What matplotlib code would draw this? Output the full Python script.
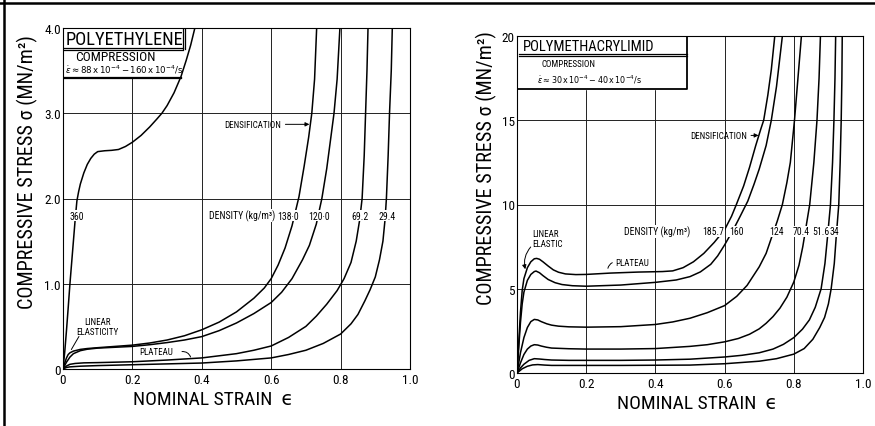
import matplotlib
matplotlib.use("Agg")
import matplotlib.pyplot as plt
from matplotlib import font_manager
from matplotlib.lines import Line2D

# --- pick a narrow font if there is one, else DejaVu Sans
installed = {f.name for f in font_manager.fontManager.ttflist}
FONT = "DejaVu Sans"
for name in ["Liberation Sans Narrow", "DejaVu Sans Condensed", "Roboto Condensed"]:
    if name in installed:
        FONT = name
        break
plt.rcParams["font.family"] = [FONT, "DejaVu Sans"]
plt.rcParams["mathtext.fontset"] = "dejavusans"

# --- polyethylene foams (left), stress in MN/m^2
pe_360_strain = [0, 0.005, 0.01, 0.015, 0.02, 0.025, 0.03, 0.035, 0.04, 0.045, 0.05, 0.06, 0.07,
                 0.08, 0.09, 0.1, 0.12, 0.14, 0.16, 0.18, 0.2, 0.225, 0.25, 0.27, 0.285, 0.3,
                 0.32, 0.34, 0.355, 0.368, 0.38]
pe_360_stress = [0, 0.2, 0.45, 0.72, 1.0, 1.25, 1.5, 1.75, 1.97, 2.08, 2.17, 2.3, 2.4,
                 2.47, 2.52, 2.55, 2.56, 2.565, 2.575, 2.61, 2.66, 2.74, 2.84, 2.93, 3.0, 3.09,
                 3.24, 3.43, 3.62, 3.8, 4.0]

pe_138_strain = [0, 0.005, 0.01, 0.015, 0.02, 0.03, 0.05, 0.07, 0.1, 0.15, 0.2, 0.25, 0.3, 0.35,
                 0.4, 0.45, 0.5, 0.55, 0.58, 0.6, 0.62, 0.64, 0.66, 0.68, 0.695, 0.708, 0.717,
                 0.725, 0.731]
pe_138_stress = [0, 0.07, 0.13, 0.17, 0.19, 0.21, 0.23, 0.24, 0.25, 0.265, 0.28, 0.305, 0.34, 0.39,
                 0.46, 0.55, 0.67, 0.83, 0.95, 1.06, 1.22, 1.42, 1.68, 2.02, 2.38, 2.72, 3.0,
                 3.4, 4.0]

pe_120_strain = [0, 0.005, 0.01, 0.02, 0.03, 0.05, 0.07, 0.1, 0.15, 0.2, 0.25, 0.3, 0.35, 0.4,
                 0.45, 0.5, 0.55, 0.6, 0.63, 0.66, 0.69, 0.71, 0.73, 0.746, 0.76, 0.772, 0.781,
                 0.79, 0.798]
pe_120_stress = [0, 0.04, 0.08, 0.14, 0.18, 0.215, 0.232, 0.245, 0.255, 0.265, 0.285, 0.31, 0.34, 0.38,
                 0.45, 0.54, 0.65, 0.78, 0.9, 1.06, 1.28, 1.45, 1.7, 2.0, 2.35, 2.72, 3.0,
                 3.4, 4.0]

pe_69_strain = [0, 0.01, 0.02, 0.035, 0.06, 0.1, 0.2, 0.3, 0.4, 0.5, 0.55, 0.6, 0.65, 0.7,
                0.73, 0.76, 0.79, 0.81, 0.83, 0.845, 0.855, 0.862, 0.868, 0.872, 0.876, 0.879]
pe_69_stress = [0, 0.035, 0.055, 0.065, 0.072, 0.075, 0.085, 0.105, 0.13, 0.18, 0.22, 0.27, 0.37, 0.5,
                0.62, 0.76, 0.92, 1.06, 1.25, 1.5, 1.75, 2.0, 2.5, 3.0, 3.5, 4.0]

pe_29_strain = [0, 0.01, 0.02, 0.05, 0.1, 0.2, 0.3, 0.4, 0.5, 0.6, 0.65, 0.7, 0.75, 0.8, 0.83,
                0.85, 0.87, 0.885, 0.9, 0.912, 0.922, 0.928, 0.932, 0.937, 0.941, 0.946, 0.949]
pe_29_stress = [0, 0.018, 0.025, 0.033, 0.04, 0.05, 0.06, 0.07, 0.095, 0.13, 0.17, 0.22, 0.3, 0.41, 0.53,
                0.64, 0.8, 0.93, 1.08, 1.28, 1.5, 1.75, 2.0, 2.5, 3.0, 3.5, 4.0]

# --- polymethacrylimid foams (right)
pm_186_strain = [0, 0.005, 0.01, 0.015, 0.02, 0.03, 0.04, 0.05, 0.057, 0.065, 0.075, 0.09, 0.105,
                 0.12, 0.14, 0.17, 0.2, 0.27, 0.35, 0.42, 0.45, 0.48, 0.51, 0.54, 0.57, 0.6,
                 0.62, 0.634, 0.655, 0.672, 0.69, 0.705, 0.713, 0.725, 0.735, 0.745]
pm_186_stress = [0, 1.8, 3.6, 4.9, 5.6, 6.25, 6.6, 6.78, 6.8, 6.75, 6.6, 6.35, 6.12,
                 5.98, 5.88, 5.84, 5.85, 5.93, 5.99, 6.02, 6.06, 6.25, 6.6, 7.1, 7.75, 8.5,
                 9.3, 10.0, 11.1, 12.2, 13.5, 14.5, 15.0, 16.5, 18.0, 20.0]

pm_160_strain = [0, 0.005, 0.01, 0.015, 0.02, 0.03, 0.04, 0.05, 0.055, 0.065, 0.075, 0.09, 0.11,
                 0.13, 0.16, 0.2, 0.3, 0.4, 0.46, 0.5, 0.53, 0.56, 0.58, 0.6, 0.625, 0.645,
                 0.667, 0.685, 0.7, 0.72, 0.735, 0.75, 0.767]
pm_160_stress = [0, 1.5, 3.0, 4.1, 4.8, 5.5, 5.85, 6.02, 6.05, 5.95, 5.78, 5.55, 5.36,
                 5.25, 5.18, 5.15, 5.22, 5.38, 5.52, 5.72, 6.0, 6.45, 6.95, 7.6, 8.5, 9.3,
                 10.2, 11.2, 12.1, 13.5, 15.0, 17.0, 20.0]

pm_124_strain = [0, 0.005, 0.01, 0.02, 0.03, 0.04, 0.05, 0.06, 0.07, 0.086, 0.1, 0.12, 0.15, 0.2,
                 0.3, 0.4, 0.45, 0.5, 0.55, 0.6, 0.635, 0.665, 0.7, 0.72, 0.735, 0.752, 0.767,
                 0.78, 0.79, 0.802, 0.812, 0.822]
pm_124_stress = [0, 0.6, 1.2, 2.1, 2.7, 3.05, 3.18, 3.15, 3.05, 2.92, 2.84, 2.78, 2.74, 2.72,
                 2.75, 2.88, 3.03, 3.25, 3.58, 4.0, 4.55, 5.2, 6.3, 7.1, 8.0, 9.0, 10.0,
                 11.3, 12.5, 15.0, 17.5, 20.0]

pm_70_strain = [0, 0.01, 0.02, 0.03, 0.04, 0.05, 0.06, 0.07, 0.085, 0.1, 0.15, 0.2, 0.3, 0.4,
                0.5, 0.55, 0.6, 0.64, 0.672, 0.7, 0.72, 0.74, 0.76, 0.78, 0.8, 0.815, 0.826,
                0.834, 0.846, 0.858, 0.867, 0.873, 0.877]
pm_70_stress = [0, 0.6, 1.1, 1.42, 1.6, 1.68, 1.66, 1.6, 1.53, 1.48, 1.44, 1.42, 1.42, 1.45,
                1.58, 1.68, 1.85, 2.05, 2.3, 2.62, 2.95, 3.35, 3.85, 4.5, 5.4, 6.4, 7.5,
                8.5, 10.0, 12.5, 15.0, 17.5, 20.0]

pm_52_strain = [0, 0.01, 0.02, 0.035, 0.05, 0.065, 0.08, 0.1, 0.15, 0.3, 0.4, 0.5, 0.6, 0.65,
                0.7, 0.74, 0.77, 0.8, 0.825, 0.845, 0.862, 0.879, 0.89, 0.898, 0.906, 0.912,
                0.916, 0.919, 0.921]
pm_52_stress = [0, 0.3, 0.52, 0.75, 0.85, 0.83, 0.8, 0.77, 0.75, 0.75, 0.77, 0.82, 0.95, 1.05,
                1.2, 1.42, 1.7, 2.1, 2.6, 3.15, 3.9, 5.0, 6.5, 8.2, 10.0, 12.5,
                15.0, 17.5, 20.0]

pm_34_strain = [0, 0.015, 0.03, 0.045, 0.06, 0.08, 0.1, 0.3, 0.5, 0.6, 0.7, 0.75, 0.8, 0.83,
                0.855, 0.875, 0.889, 0.9, 0.908, 0.917, 0.923, 0.93, 0.934, 0.937, 0.939, 0.94]
pm_34_stress = [0, 0.25, 0.4, 0.48, 0.5, 0.47, 0.45, 0.45, 0.47, 0.55, 0.7, 0.85, 1.12, 1.45,
                2.0, 2.7, 3.3, 4.1, 5.0, 6.5, 8.2, 10.0, 12.5, 15.0, 17.5, 20.0]

pe_curves = [(pe_360_strain, pe_360_stress), (pe_138_strain, pe_138_stress),
             (pe_120_strain, pe_120_stress), (pe_69_strain, pe_69_stress),
             (pe_29_strain, pe_29_stress)]
pm_curves = [(pm_186_strain, pm_186_stress), (pm_160_strain, pm_160_stress),
             (pm_124_strain, pm_124_stress), (pm_70_strain, pm_70_stress),
             (pm_52_strain, pm_52_stress), (pm_34_strain, pm_34_stress)]

strain_ticks = [0, 0.2, 0.4, 0.6, 0.8, 1.0]
strain_ticklabels = ["0", "0.2", "0.4", "0.6", "0.8", "1.0"]
pe_ticks = [0, 1, 2, 3, 4]
pe_ticklabels = ["0", "1.0", "2.0", "3.0", "4.0"]
pm_ticks = [0, 5, 10, 15, 20]
pm_ticklabels = ["0", "5", "10", "15", "20"]

pe_density_labels = [("360", 0.04), ("138·0", 0.648), ("120·0", 0.737), ("69.2", 0.857), ("29.4", 0.935)]
pm_density_labels = [("185.7", 0.568), ("160", 0.633), ("124", 0.75), ("70.4", 0.82),
                     ("51.6", 0.878), ("34", 0.917)]

fig = plt.figure(figsize=(8.75, 4.27), dpi=100)
ax1 = fig.add_axes([63 / 875, 57 / 427, 347 / 875, 341 / 427])
ax2 = fig.add_axes([517 / 875, 53 / 427, 346 / 875, 337 / 427])

ylabel = "COMPRESSIVE STRESS σ (MN/m²)"
xlabel = "NOMINAL STRAIN  ϵ"


def style_axes(ax, yticks, yticklabels, ymax):
    ax.set_xlim(0, 1.0)
    ax.set_ylim(0, ymax)
    ax.set_xticks(strain_ticks)
    ax.set_xticklabels(strain_ticklabels)
    ax.set_yticks(yticks)
    ax.set_yticklabels(yticklabels)
    ax.tick_params(length=0, labelsize=9.5, pad=3)
    ax.tick_params(axis="y", pad=1.5)
    ax.grid(True, color="#222222", linewidth=0.7)
    ax.set_axisbelow(True)
    for s in ax.spines.values():
        s.set_linewidth(0.8)
    ax.set_ylabel(ylabel, fontsize=14.5)
    ax.set_xlabel(xlabel, fontsize=14)


style_axes(ax1, pe_ticks, pe_ticklabels, 4.0)
style_axes(ax2, pm_ticks, pm_ticklabels, 20.0)
ax1.yaxis.set_label_coords(-0.072, 0.58)
ax1.xaxis.set_label_coords(0.432, -0.062)
ax2.yaxis.set_label_coords(-0.058, 0.61)
ax2.xaxis.set_label_coords(0.52, -0.061)

for x, y in pe_curves:
    ax1.plot(x, y, color="black", linewidth=1.1, zorder=3)
for x, y in pm_curves:
    ax2.plot(x, y, color="black", linewidth=1.1, zorder=3)

white = dict(facecolor="white", edgecolor="none", pad=0.6)

# --- left panel labels
ax1.text(0.42, 1.8, "DENSITY (kg/m³)", fontsize=7, va="center", ha="left", bbox=white, zorder=4)
for lab, xpos in pe_density_labels:
    ax1.text(xpos, 1.8, lab, fontsize=7, va="center", ha="center", bbox=white, zorder=4)
ax1.annotate("DENSIFICATION", xy=(0.71, 2.87), xytext=(0.465, 2.87), fontsize=6.5, va="center",
             arrowprops=dict(arrowstyle="-|>", color="black", lw=0.7, mutation_scale=6,
                             shrinkA=1, shrinkB=0), zorder=4)
ax1.text(0.1, 0.5, "LINEAR\nELASTICITY", fontsize=6.5, ha="center", va="center",
         linespacing=1.1, zorder=4)
ax1.annotate("", xy=(0.02, 0.2), xytext=(0.05, 0.41),
             arrowprops=dict(arrowstyle="-", color="black", lw=0.7), zorder=4)
ax1.text(0.22, 0.2, "PLATEAU", fontsize=6.5, ha="left", va="center", zorder=4)
ax1.annotate("", xy=(0.37, 0.11), xytext=(0.335, 0.2),
             arrowprops=dict(arrowstyle="-", color="black", lw=0.7,
                             connectionstyle="arc3,rad=-0.5"), zorder=4)

# left title box
ax1.fill_between([0, 0.345], 3.42, 4.0, color="white", zorder=2)
ax1.plot([0, 0.34], [3.43, 3.43], color="black", lw=0.9, zorder=4)
ax1.plot([0, 0.34], [3.41, 3.41], color="black", lw=0.9, zorder=4)
ax1.plot([0, 0.345], [3.765, 3.765], color="black", lw=0.9, zorder=4)
ax1.plot([0, 0.345], [3.745, 3.745], color="black", lw=0.9, zorder=4)
ax1.plot([0.345, 0.345], [3.75, 4.0], color="black", lw=0.9, zorder=4)
ax1.plot([0.353, 0.353], [3.75, 4.0], color="black", lw=0.9, zorder=4)
ax1.text(0.008, 3.87, "POLYETHYLENE", fontsize=13.3, ha="left", va="center", zorder=5)
ax1.text(0.035, 3.66, "COMPRESSION", fontsize=9.6, ha="left", va="center", zorder=5)
ax1.text(0.006, 3.52, r"$\dot{\epsilon}\approx88\,\mathrm{x}\,10^{-4}-160\,\mathrm{x}\,10^{-4}/\mathrm{s}$",
         fontsize=6.2, ha="left", va="center", zorder=5)

# --- right panel labels
ax2.text(0.31, 8.4, "DENSITY (kg/m³)", fontsize=7, va="center", ha="left", bbox=white, zorder=4)
for lab, xpos in pm_density_labels:
    ax2.text(xpos, 8.4, lab, fontsize=7, va="center", ha="center", bbox=white, zorder=4)
ax2.annotate("DENSIFICATION", xy=(0.698, 14.1), xytext=(0.5, 14.1), fontsize=6.5, va="center",
             arrowprops=dict(arrowstyle="-|>", color="black", lw=0.7, mutation_scale=6,
                             shrinkA=1, shrinkB=0), zorder=4)
ax2.text(0.043, 8.0, "LINEAR\nELASTIC", fontsize=6.5, ha="left", va="center",
         linespacing=1.1, zorder=4)
ax2.annotate("", xy=(0.026, 6.0), xytext=(0.045, 7.6),
             arrowprops=dict(arrowstyle="-|>", color="black", lw=0.7, mutation_scale=6,
                             connectionstyle="arc3,rad=0.3"), zorder=4)
ax2.text(0.285, 6.55, "PLATEAU", fontsize=6.5, ha="left", va="center", zorder=4)
ax2.annotate("", xy=(0.262, 6.05), xytext=(0.283, 6.6),
             arrowprops=dict(arrowstyle="-", color="black", lw=0.7,
                             connectionstyle="arc3,rad=0.4"), zorder=4)

# right title box
ax2.fill_between([0, 0.49], 16.85, 20.0, color="white", zorder=2)
ax2.plot([0, 0.49, 0.49], [16.85, 16.85, 20.0], color="black", lw=1.3, zorder=4)
ax2.plot([0.005, 0.49], [18.95, 18.95], color="black", lw=0.9, zorder=4)
ax2.plot([0.005, 0.49], [18.8, 18.8], color="black", lw=0.9, zorder=4)
ax2.text(0.017, 19.4, "POLYMETHACRYLIMID", fontsize=10.5, ha="left", va="center", zorder=5)
ax2.text(0.072, 18.35, "COMPRESSION", fontsize=6.5, ha="left", va="center", zorder=5)
ax2.text(0.058, 17.45, r"$\dot{\epsilon}\approx30\,\mathrm{x}\,10^{-4}-40\,\mathrm{x}\,10^{-4}/\mathrm{s}$",
         fontsize=5.8, ha="left", va="center", zorder=5)

# scan frame (top and left edges)
fig.add_artist(Line2D([0, 1], [1 - 4 / 427, 1 - 4 / 427], color="black", lw=1.8,
                      transform=fig.transFigure))
fig.add_artist(Line2D([4 / 875, 4 / 875], [0, 1], color="black", lw=1.8,
                      transform=fig.transFigure))

fig.savefig("out.png", dpi=100)
